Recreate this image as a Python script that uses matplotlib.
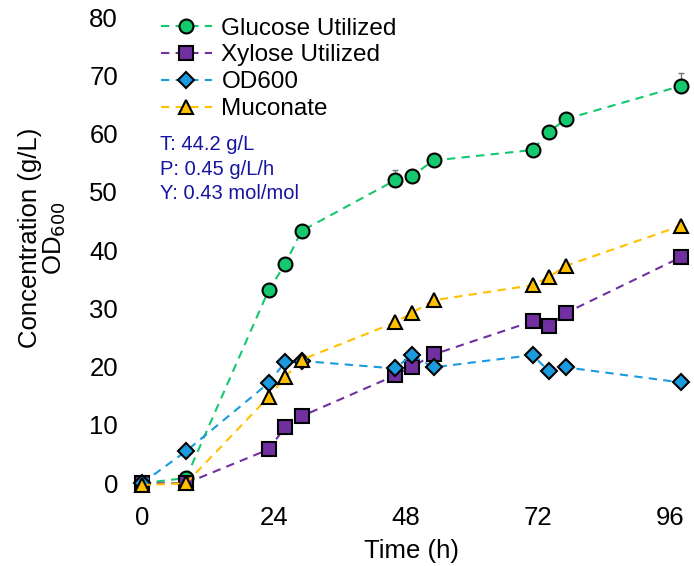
import matplotlib.pyplot as plt

plt.rcParams["font.family"] = ["Liberation Sans", "DejaVu Sans"]

time_h = [0, 8, 23, 26, 29, 46, 49, 53, 71, 74, 77, 98]
glucose = [0.0, 0.9, 33.1, 37.6, 43.3, 52.0, 52.7, 55.4, 57.2, 60.3, 62.5, 68.2]
glucose_err = [0.3, 0.3, 0.5, 0.5, 0.5, 1.8, 0.5, 0.5, 0.5, 0.5, 0.5, 2.2]
xylose = [0.0, 0.0, 5.8, 9.6, 11.5, 18.5, 19.9, 22.1, 27.8, 27.0, 29.2, 38.8]
od600 = [0.0, 5.5, 17.2, 20.8, 21.0, 19.7, 22.0, 19.9, 22.0, 19.2, 19.9, 17.3]
muconate = [-0.3, 0.0, 14.8, 18.2, 21.2, 27.6, 29.2, 31.4, 34.0, 35.4, 37.3, 44.2]

x_ticks = [0, 24, 48, 72, 96]
y_ticks = [0, 10, 20, 30, 40, 50, 60, 70, 80]
annotation_lines = ["T: 44.2 g/L", "P: 0.45 g/L/h", "Y: 0.43 mol/mol"]

fig = plt.figure(figsize=(6.94, 5.66), dpi=100)
ax = fig.add_axes([0.186, 0.125, 0.814, 0.857])

series = [
    ("Glucose Utilized", glucose, "#14C86E", "o", 10),
    ("Xylose Utilized", xylose, "#7030A0", "s", 9.5),
    ("OD600", od600, "#1A9BDF", "D", 8),
    ("Muconate", muconate, "#FFC000", "^", 10.5),
]

# only the upper half of the error bar shows above the markers
ax.errorbar(time_h, glucose, yerr=[[0] * len(glucose), glucose_err], fmt="none",
            ecolor="#777777", elinewidth=1, capsize=2.5, zorder=1)

for label, values, color, marker, size in series:
    ax.plot(time_h, values, linestyle=(0, (4, 3)), color=color, linewidth=1.5,
            marker=marker, markersize=size, markerfacecolor=color,
            markeredgecolor="black", markeredgewidth=1.5, label=label, zorder=3)

ax.set_xlim(-2.36, 100.36)
ax.set_ylim(-2.06, 81.2)
ax.set_xticks(x_ticks)
ax.set_yticks(y_ticks)
ax.tick_params(length=0, labelsize=18.5)
ax.tick_params(axis="y", pad=8)
ax.tick_params(axis="x", pad=8)
for side in ax.spines.values():
    side.set_visible(False)

ax.set_xlabel("Time (h)", fontsize=18.5, labelpad=6)
ax.set_ylabel("Concentration (g/L)\nOD$_{600}$", fontsize=18.5, linespacing=1.0)
ax.yaxis.set_label_coords(-0.108, 0.53)

ax.legend(loc="upper left", bbox_to_anchor=(0.03, 1.015), frameon=False,
          fontsize=17.5, handlelength=2.1, handletextpad=0.4, labelspacing=0.2,
          borderaxespad=0.2)

ax.text(0.055, 0.743, "\n".join(annotation_lines), transform=ax.transAxes,
        color="#1515A0", fontsize=14.5, linespacing=1.38, va="top", ha="left")

fig.savefig("out.png", dpi=100)
